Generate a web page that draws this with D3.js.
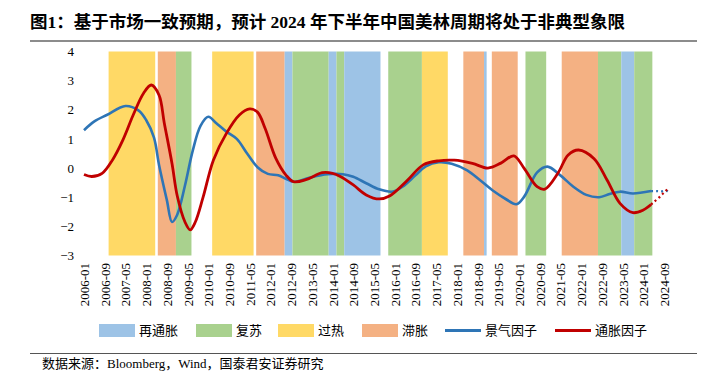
<!DOCTYPE html>
<html><head><meta charset="utf-8">
<script src="https://cdn.jsdelivr.net/npm/d3@7/dist/d3.min.js"></script>
<style>body{margin:0;background:#fff}svg{display:block}</style>
</head><body><svg id="c" width="706" height="374"></svg>
<script>
const tickLabels = ["2006-01","2006-09","2007-05","2008-01","2008-09","2009-05","2010-01","2010-09","2011-05","2012-01","2012-09","2013-05","2014-01","2014-09","2015-05","2016-01","2016-09","2017-05","2018-01","2018-09","2019-05","2020-01","2020-09","2021-05","2022-01","2022-09","2023-05","2024-01","2024-09"];
const yTicks = [-3,-2,-1,0,1,2,3,4];

const regimes = ["再通胀","复苏","过热","滞胀"];
const regimeColors = ["#9DC3E6","#A9D18E","#FFD966","#F4B183"];

const bandStart  = ["2006-11","2008-06","2009-01","2010-03","2011-08","2012-07","2012-10","2013-12","2014-03","2014-06","2015-11","2016-12","2018-04","2018-12","2019-03","2020-04","2021-06","2022-08","2023-05","2023-10"];
const bandEnd    = ["2008-04","2008-12","2009-06","2011-06","2012-06","2012-09","2013-11","2014-02","2014-05","2015-07","2016-11","2017-09","2018-11","2018-12","2019-12","2020-11","2022-07","2023-04","2023-09","2024-04"];
const bandRegime = ["过热","滞胀","复苏","过热","滞胀","再通胀","复苏","再通胀","复苏","再通胀","复苏","过热","滞胀","再通胀","滞胀","复苏","滞胀","复苏","再通胀","复苏"];

const boomDates = ["2006-01","2006-05","2006-10","2007-05","2007-10","2008-01","2008-04","2008-06","2008-09","2008-11","2009-01","2009-04","2009-07","2009-10","2010-01","2010-04","2010-08","2010-12","2011-04","2011-08","2011-12","2012-04","2012-07","2012-10","2013-04","2013-11","2014-05","2014-09","2015-02","2015-07","2015-12","2016-04","2016-09","2017-01","2017-06","2017-11","2018-05","2018-10","2019-03","2019-08","2019-12","2020-03","2020-08","2020-12","2021-05","2021-10","2022-03","2022-08","2022-12","2023-04","2023-09","2024-04"];
const boomValues = [1.30,1.60,1.83,2.13,1.98,1.65,1.05,0.10,-1.10,-1.85,-1.60,-0.60,0.60,1.45,1.76,1.55,1.25,1.00,0.50,0.03,-0.20,-0.25,-0.37,-0.47,-0.33,-0.21,-0.21,-0.30,-0.52,-0.73,-0.81,-0.64,-0.25,0.06,0.20,0.15,-0.08,-0.42,-0.78,-1.07,-1.24,-0.98,-0.15,0.05,-0.25,-0.64,-0.92,-1.00,-0.89,-0.81,-0.87,-0.79];
const boomFcDates = ["2024-04","2024-06","2024-08","2024-10","2024-11"];
const boomFcValues = [-0.79,-0.79,-0.80,-0.78,-0.83];

const inflDates = ["2006-01","2006-04","2006-08","2006-12","2007-04","2007-08","2007-12","2008-03","2008-06","2008-08","2008-11","2009-01","2009-04","2009-06","2009-08","2009-11","2010-03","2010-08","2011-01","2011-05","2011-08","2011-11","2012-03","2012-07","2012-10","2013-03","2013-09","2014-01","2014-04","2014-09","2015-02","2015-07","2015-11","2016-06","2016-12","2017-06","2017-12","2018-07","2019-01","2019-06","2019-11","2020-03","2020-08","2020-11","2021-04","2021-08","2021-12","2022-06","2022-11","2023-04","2023-09","2024-01","2024-04"];
const inflValues = [-0.22,-0.29,-0.18,0.28,0.96,1.82,2.57,2.85,2.50,1.55,0.15,-0.95,-1.85,-2.12,-1.85,-1.00,0.28,1.19,1.82,2.03,1.92,1.35,0.35,-0.24,-0.47,-0.39,-0.16,-0.18,-0.29,-0.58,-0.92,-1.06,-0.96,-0.41,0.11,0.25,0.27,0.16,0.00,0.17,0.42,-0.01,-0.64,-0.72,-0.18,0.45,0.62,0.32,-0.41,-1.21,-1.53,-1.44,-1.25];
const inflFcDates = ["2024-04","2024-05","2024-07","2024-09","2024-11"];
const inflFcValues = [-1.25,-1.17,-1.02,-0.84,-0.67];

const mi = s => { const [y,m] = s.split("-").map(Number); return (y-2006)*12 + (m-1); };

const svg = d3.select("#c");
const x = d3.scaleLinear().domain([0, mi("2024-09")]).range([84, 664]);
const y = d3.scaleLinear().domain([-3, 4]).range([255.5, 51.5]);

const serif = "'Liberation Serif','Times New Roman','Noto Sans CJK SC',serif";
const cjk = "'Liberation Serif','Noto Sans CJK SC',serif";

// title
svg.append("text").attr("x", 30).attr("y", 28)
  .attr("font-family", cjk).attr("font-weight", "bold").attr("font-size", 17.5).attr("fill", "#000")
  .text("图1：基于市场一致预期，预计 2024 年下半年中国美林周期将处于非典型象限");
svg.append("line").attr("x1", 30).attr("x2", 697).attr("y1", 41).attr("y2", 41)
  .attr("stroke", "#8c8c8c").attr("stroke-width", 2);

// bands
const color = d3.scaleOrdinal().domain(regimes).range(regimeColors);
svg.append("g").selectAll("rect").data(bandStart.map((s,i)=>({s:mi(s), e:mi(bandEnd[i]), r:bandRegime[i]})))
  .join("rect")
  .attr("x", d => x(d.s - 0.5)).attr("width", d => x(d.e + 0.5) - x(d.s - 0.5))
  .attr("y", y(4)).attr("height", y(-3) - y(4))
  .attr("fill", d => color(d.r));

// y axis
const ya = svg.append("g").attr("transform", "translate(74,0)")
  .call(d3.axisLeft(y).tickValues(yTicks).tickSize(0).tickPadding(0).tickFormat(d3.format("d")));
ya.select(".domain").remove();
ya.selectAll("text").attr("font-family", serif).attr("font-size", 13).attr("fill", "#000");

// x axis
const xa = svg.append("g").attr("transform", "translate(0,259)")
  .call(d3.axisBottom(x).tickValues(tickLabels.map(mi)).tickSize(0).tickFormat((d,i)=>tickLabels[i]));
xa.select(".domain").remove();
xa.selectAll("text").attr("font-family", serif).attr("font-size", 13).attr("fill", "#000")
  .attr("transform", "rotate(-90)").attr("text-anchor", "end")
  .attr("x", -4).attr("y", 0).attr("dy", "0.35em").attr("dx", 0);

// lines
const line = d3.line().x(d => x(d[0])).y(d => y(d[1])).curve(d3.curveCatmullRom.alpha(0.5));
const pts = (ds, vs) => ds.map((d,i) => [mi(d), vs[i]]);
svg.append("path").attr("d", line(pts(boomDates, boomValues)))
  .attr("fill", "none").attr("stroke", "#2E75B6").attr("stroke-width", 2.6);
svg.append("path").attr("d", line(pts(inflDates, inflValues)))
  .attr("fill", "none").attr("stroke", "#C00000").attr("stroke-width", 2.8);
svg.append("path").attr("d", line(pts(boomFcDates, boomFcValues)))
  .attr("fill", "none").attr("stroke", "#2E75B6").attr("stroke-width", 2.2).attr("stroke-dasharray", "2,3");
svg.append("path").attr("d", line(pts(inflFcDates, inflFcValues)))
  .attr("fill", "none").attr("stroke", "#C00000").attr("stroke-width", 2.2).attr("stroke-dasharray", "2,3");

// legend
const leg = svg.append("g").attr("font-family", cjk).attr("font-size", 13);
const legItems = [
  {t:"rect", c:regimeColors[0], n:regimes[0], x:99},
  {t:"rect", c:regimeColors[1], n:regimes[1], x:196},
  {t:"rect", c:regimeColors[2], n:regimes[2], x:278},
  {t:"rect", c:regimeColors[3], n:regimes[3], x:362},
  {t:"line", c:"#2E75B6", n:"景气因子", x:445},
  {t:"line", c:"#C00000", n:"通胀因子", x:555}
];
legItems.forEach(d => {
  if (d.t === "rect") leg.append("rect").attr("x", d.x).attr("y", 324).attr("width", 36).attr("height", 13).attr("fill", d.c);
  else leg.append("line").attr("x1", d.x).attr("x2", d.x+36).attr("y1", 330.5).attr("y2", 330.5).attr("stroke", d.c).attr("stroke-width", 3);
  leg.append("text").attr("x", d.x + 40).attr("y", 335).attr("fill", "#000").text(d.n);
});

// source
svg.append("line").attr("x1", 30).attr("x2", 697).attr("y1", 353.5).attr("y2", 353.5)
  .attr("stroke", "#555").attr("stroke-width", 1);
svg.append("text").attr("x", 42).attr("y", 368).attr("font-family", cjk).attr("font-size", 13).attr("fill", "#000")
  .text("数据来源：Bloomberg，Wind，国泰君安证券研究");
</script></body></html>
